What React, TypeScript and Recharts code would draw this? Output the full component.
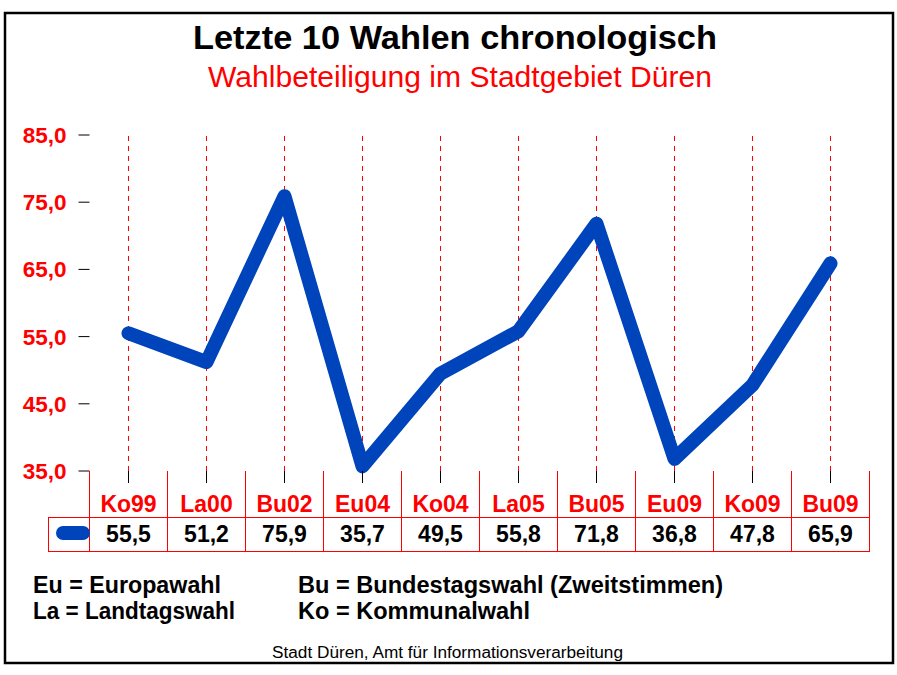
import { LineChart, Line, XAxis, YAxis, ReferenceLine } from 'recharts'

const categories = ['Ko99', 'La00', 'Bu02', 'Eu04', 'Ko04', 'La05', 'Bu05', 'Eu09', 'Ko09', 'Bu09']
const turnout = [55.5, 51.2, 75.9, 35.7, 49.5, 55.8, 71.8, 36.8, 47.8, 65.9]
const yTicks = [35, 45, 55, 65, 75, 85]
const legendLeft = ['Eu = Europawahl', 'La = Landtagswahl']
const legendRight = ['Bu = Bundestagswahl (Zweitstimmen)', 'Ko = Kommunalwahl']

const data = categories.map((c, i) => ({ cat: c, value: turnout[i] }))

const FONT = '"Liberation Sans", Arial, Helvetica, sans-serif'
const BLUE = '#0044bb'
const RED = '#ff0000'

// text widths measured on the reference
const leftWidths = [188, 202]
const rightWidths = [425, 232]

const fmt = (v: number) => v.toFixed(1).replace('.', ',')

// table under the chart: header row with labels, row with values
const TableTick = (props: any) => {
  const x = Number(props.x)
  const y = Number(props.y)
  const { payload, index } = props
  const top = Math.round(y - 12)
  const half = 39
  const mid = top + 46
  const bottom = top + 80
  const xl = Math.floor(x - half)
  const xr = Math.floor(x + half)
  return (
    <g>
      <rect x={xr} y={top} width={1} height={bottom - top + 1} fill={RED} />
      <rect x={xl} y={mid} width={xr - xl + 1} height={1} fill={RED} />
      <rect x={xl} y={bottom} width={xr - xl + 1} height={1} fill={RED} />
      {index === 0 && (
        <g>
          <rect x={xl} y={top} width={1} height={bottom - top + 1} fill={RED} />
          <rect x={48} y={mid} width={xl - 48} height={1} fill={RED} />
          <rect x={48} y={bottom} width={xl - 48} height={1} fill={RED} />
          <rect x={48} y={mid} width={1} height={bottom - mid + 1} fill={RED} />
          <line x1={63} y1={mid + 16} x2={83} y2={mid + 16} stroke={BLUE} strokeWidth={14} strokeLinecap="round" />
        </g>
      )}
      <text x={x} y={top + 41} textAnchor="middle" fill={RED} fontWeight="bold" fontSize={23} fontFamily={FONT}>
        {payload.value}
      </text>
      <text x={x} y={mid + 25} textAnchor="middle" fill="#000" fontWeight="bold" fontSize={23} fontFamily={FONT}>
        {fmt(turnout[index])}
      </text>
    </g>
  )
}

const App = () => {
  return (
    <div style={{ position: 'absolute', left: 0, top: 0, width: 897, height: 675, background: '#fff' }}>
      <LineChart width={897} height={675} data={data} margin={{ top: 135, right: 27.5, bottom: 174, left: 0.5 }}>
        {categories.map((c) => (
          <ReferenceLine key={c} x={c} stroke={RED} strokeDasharray="5 5" />
        ))}
        <XAxis
          dataKey="cat"
          padding={{ left: 39, right: 39 }}
          axisLine={false}
          tickLine={{ stroke: '#000' }}
          tickSize={12}
          tickMargin={0}
          interval={0}
          tick={<TableTick />}
        />
        <YAxis
          domain={[35, 85]}
          ticks={yTicks}
          width={89}
          axisLine={false}
          tickLine={{ stroke: '#000' }}
          tickSize={11}
          tickMargin={12}
          tickFormatter={fmt}
          tick={{ fill: RED, fontWeight: 'bold', fontSize: 22.5, fontFamily: FONT }}
        />
        <Line
          dataKey="value"
          stroke={BLUE}
          strokeWidth={14}
          strokeLinecap="round"
          strokeLinejoin="round"
          dot={false}
          activeDot={false}
          isAnimationActive={false}
        />
      </LineChart>
      <svg width={897} height={675} style={{ position: 'absolute', left: 0, top: 0, pointerEvents: 'none' }}>
        <rect x={5} y={13} width={888} height={650} fill="none" stroke="#000" strokeWidth={2.5} />
        <text x={193} y={49} textLength={524} lengthAdjust="spacingAndGlyphs" fontSize={34} fontWeight="bold" fontFamily={FONT} fill="#000">
          Letzte 10 Wahlen chronologisch
        </text>
        <text x={208} y={87} textLength={504} lengthAdjust="spacingAndGlyphs" fontSize={29} fontFamily={FONT} fill={RED}>
          Wahlbeteiligung im Stadtgebiet Düren
        </text>
        {legendLeft.map((t, i) => (
          <text key={t} x={33} y={593 + i * 26} textLength={leftWidths[i]} lengthAdjust="spacingAndGlyphs" fontSize={23} fontWeight="bold" fontFamily={FONT} fill="#000">
            {t}
          </text>
        ))}
        {legendRight.map((t, i) => (
          <text key={t} x={298} y={593 + i * 26} textLength={rightWidths[i]} lengthAdjust="spacingAndGlyphs" fontSize={23} fontWeight="bold" fontFamily={FONT} fill="#000">
            {t}
          </text>
        ))}
        <text x={272} y={658} textLength={351} lengthAdjust="spacingAndGlyphs" fontSize={16} fontFamily={FONT} fill="#000">
          Stadt Düren, Amt für Informationsverarbeitung
        </text>
      </svg>
    </div>
  )
}

export default App
